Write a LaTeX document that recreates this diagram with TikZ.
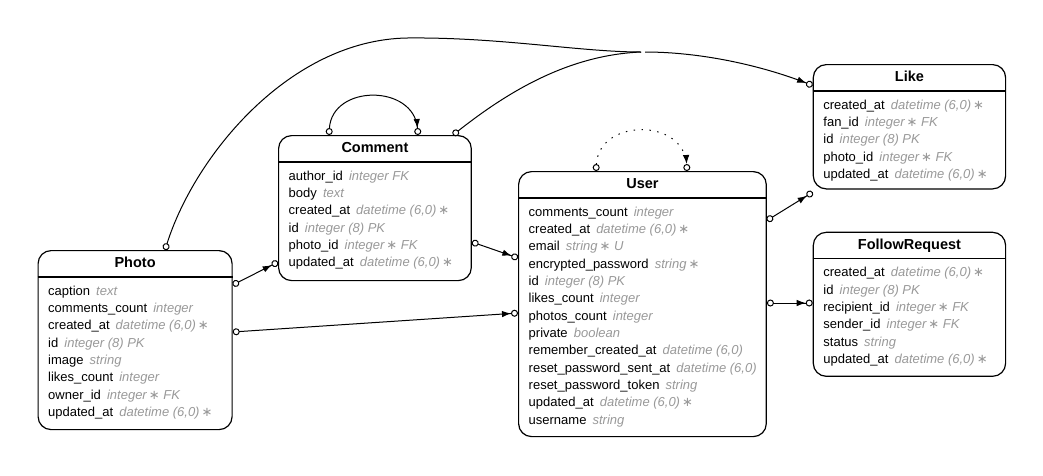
\documentclass[tikz,border=0pt]{standalone}
\usepackage{fontspec}
\setmainfont{Liberation Sans}
\newfontfamily\symfont{DejaVu Sans}
\usetikzlibrary{arrows.meta,calc}
\definecolor{typegray}{HTML}{999999}

% attribute type in grey italics, and the "not null" star
\newcommand{\ty}[1]{\hspace{2.5pt}{\itshape\color{typegray}#1}}
\newcommand{\st}{\hspace{2pt}{\upshape\symfont ∗}}

\tikzset{
  entbox/.style={draw, line width=1.2pt, rounded corners=13pt, inner sep=0pt, fill=white},
  entline/.style={line width=1.2pt},
  enttitle/.style={font=\fontsize{14.5}{16}\selectfont\bfseries, inner sep=0pt, anchor=base},
  entrow/.style={font=\fontsize{13}{15}\selectfont, inner sep=0pt, anchor=base west},
  relation/.style={line width=1pt, {Circle[open,length=7pt,width=7pt]}-{Latex[length=9pt,width=6.5pt] Circle[open,length=7pt,width=7pt]}},
  relstart/.style={line width=1pt, {Circle[open,length=7pt,width=7pt]}-},
  relend/.style={line width=1pt, -{Latex[length=9pt,width=6.5pt] Circle[open,length=7pt,width=7pt]}},
}

% entity box: id, left, top, width, height, title, attribute rows
\newcommand{\entity}[7]{%
  \node[entbox, minimum width=#4, minimum height=#5, anchor=north west] (#1) at (#2,#3) {};
  \draw[entline] ($(#1.north west)+(0,27)$) -- ($(#1.north east)+(0,27)$);
  \node[enttitle] (#1-title) at ($(#1.north)+(0,17.5)$) {#6};
  \foreach \r [count=\i] in {#7} {
    \node[entrow] (#1-row\i) at ($(#1.north west)+(10.5,{27+18+(\i-1)*17.35})$) {\r};
  }%
}

\begin{document}
\begin{tikzpicture}[x=1pt,y=-1pt]
\useasboundingbox (0,0) rectangle (1043,475);
\fill[white] (0,0) rectangle (1043,475);

\entity{photo}{37.5}{250}{194}{179}{Photo}{%
  {caption \ty{text}},
  {comments\_count \ty{integer}},
  {created\_at \ty{datetime (6,0)\st}},
  {id \ty{integer (8) PK}},
  {image \ty{string}},
  {likes\_count \ty{integer}},
  {owner\_id \ty{integer\st\ FK}},
  {updated\_at \ty{datetime (6,0)\st}}}

\entity{comment}{278}{135}{192.7}{145}{Comment}{%
  {author\_id \ty{integer FK}},
  {body \ty{text}},
  {created\_at \ty{datetime (6,0)\st}},
  {id \ty{integer (8) PK}},
  {photo\_id \ty{integer\st\ FK}},
  {updated\_at \ty{datetime (6,0)\st}}}

\entity{user}{518}{171}{247.7}{265}{User}{%
  {comments\_count \ty{integer}},
  {created\_at \ty{datetime (6,0)\st}},
  {email \ty{string\st\ U}},
  {encrypted\_password \ty{string\st}},
  {id \ty{integer (8) PK}},
  {likes\_count \ty{integer}},
  {photos\_count \ty{integer}},
  {private \ty{boolean}},
  {remember\_created\_at \ty{datetime (6,0)}},
  {reset\_password\_sent\_at \ty{datetime (6,0)}},
  {reset\_password\_token \ty{string}},
  {updated\_at \ty{datetime (6,0)\st}},
  {username \ty{string}}}

\entity{like}{812.7}{64}{192.3}{124.3}{Like}{%
  {created\_at \ty{datetime (6,0)\st}},
  {fan\_id \ty{integer\st\ FK}},
  {id \ty{integer (8) PK}},
  {photo\_id \ty{integer\st\ FK}},
  {updated\_at \ty{datetime (6,0)\st}}}

\entity{followrequest}{812.7}{231.7}{192.3}{144}{FollowRequest}{%
  {created\_at \ty{datetime (6,0)\st}},
  {id \ty{integer (8) PK}},
  {recipient\_id \ty{integer\st\ FK}},
  {sender\_id \ty{integer\st\ FK}},
  {status \ty{string}},
  {updated\_at \ty{datetime (6,0)\st}}}

% ports on the entity borders
\coordinate (photo-top)     at ($(photo.north west)+(127.5,0)$);
\coordinate (photo-r1)      at ($(photo.north east)+(0,35)$);
\coordinate (photo-r2)      at ($(photo.north east)+(0,82)$);
\coordinate (comment-t1)    at ($(comment.north west)+(51,0)$);
\coordinate (comment-t2)    at ($(comment.north west)+(140,0)$);
\coordinate (comment-t3)    at ($(comment.north west)+(175,0)$);
\coordinate (comment-l)     at ($(comment.north west)+(0,127)$);
\coordinate (comment-r)     at ($(comment.north east)+(0,107)$);
\coordinate (user-t1)       at ($(user.north west)+(78,0)$);
\coordinate (user-t2)       at ($(user.north west)+(169,0)$);
\coordinate (user-l1)       at ($(user.north west)+(0,87)$);
\coordinate (user-l2)       at ($(user.north west)+(0,142)$);
\coordinate (user-r1)       at ($(user.north east)+(0,49.5)$);
\coordinate (user-r2)       at ($(user.north east)+(0,132)$);
\coordinate (like-l)        at ($(like.north west)+(0,21.5)$);
\coordinate (like-bl)       at ($(like.south west)+(0,2.7)$);
\coordinate (followrequest-l) at ($(followrequest.north west)+(0,71.3)$);
% where the two edges into Like join
\coordinate (join-in)  at (641,52);
\coordinate (join-out) at (645,52);

% Photo and Comment into Like (merged)
\draw[relstart] (photo-top) .. controls (195,155) and (290,40) .. (407,38)
                 .. controls (500,37) and (580,52) .. (join-in);
\draw[relstart] (comment-t3) .. controls (510,90) and (570,55) .. (join-in);
\draw[relend] (join-out) .. controls (700,52) and (760,65) .. (like-l);

% self references
\draw[relation] (comment-t1) .. controls (332,84) and (414,84) .. (comment-t2);
\draw[relation, dash pattern=on 1.4pt off 6.5pt] (user-t1) .. controls (599,118) and (684,118) .. (user-t2);

% straight relations
\draw[relation] (photo-r1) -- (comment-l);
\draw[relation] (photo-r2) -- (user-l2);
\draw[relation] (comment-r) -- (user-l1);
\draw[relation] (user-r1) -- (like-bl);
\draw[relation] (user-r2) -- (followrequest-l);
\end{tikzpicture}
\end{document}
